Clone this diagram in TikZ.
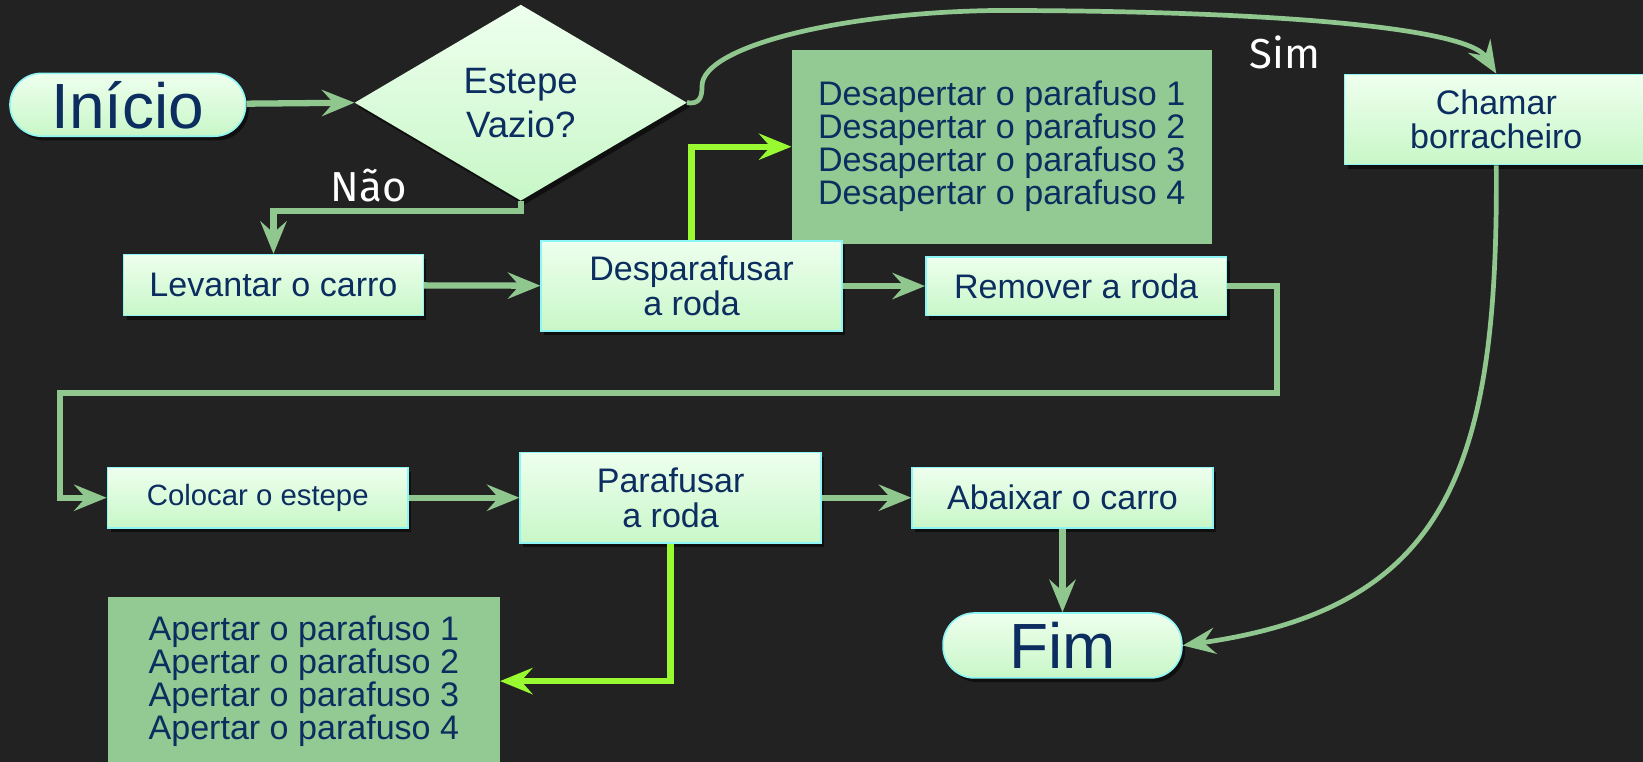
\documentclass[tikz,border=0pt]{standalone}
\usepackage{fontspec}
\setmainfont{Liberation Sans}
\newfontfamily\lblfont{Fira Sans}
\usetikzlibrary{shapes.geometric,arrows.meta,shadows,calc}
\definecolor{bgc}{RGB}{34,34,34}
\definecolor{lgreen}{RGB}{143,199,143}
\definecolor{bright}{RGB}{153,250,50}
\definecolor{darkg}{RGB}{147,201,147}
\definecolor{gtop}{RGB}{238,255,238}
\definecolor{gbot}{RGB}{200,247,200}
\definecolor{cyanb}{RGB}{140,245,245}
\definecolor{navy}{RGB}{12,45,95}
\begin{document}
\begin{tikzpicture}[x=1pt,y=-1pt,
  procbox/.style={rectangle, draw=cyanb, line width=1.5pt, top color=gtop, bottom color=gbot,
    text=navy, font=\fontsize{32.5}{33}\selectfont, align=center, inner sep=0pt,
    drop shadow={shadow xshift=3pt, shadow yshift=-4pt, opacity=0.55, fill=black}},
  pill/.style={procbox, rounded corners=30pt, font=\fontsize{61}{62}\selectfont},
  notebox/.style={rectangle, fill=darkg, inner sep=0pt},
  notetext/.style={text=navy, font=\fontsize{32.5}{31.5}\selectfont, align=center, inner sep=0pt},
  conn/.style={line width=6pt, draw=lgreen, -{Stealth[length=31pt,width=25pt,inset=11pt]}},
  bconn/.style={conn, draw=bright},
  curveconn/.style={conn, line width=4.5pt},
  lbl/.style={text=white, font=\lblfont\fontsize{40}{40}\selectfont, inner sep=0pt}
]
\fill[bgc] (0,0) rectangle (1568,727);
\useasboundingbox (0,0) rectangle (1568,727);

% notes
\node[notebox, minimum width=401pt, minimum height=185pt] (desap) at (956,140) {};
\node[notetext] (desapt) at (956,140) {Desapertar o parafuso 1\\Desapertar o parafuso 2\\Desapertar o parafuso 3\\Desapertar o parafuso 4};
\node[notebox, minimum width=374pt, minimum height=200pt] (apert) at (290,670) {};
\node[notetext] (apertt) at (290,650) {Apertar o parafuso 1\\Apertar o parafuso 2\\Apertar o parafuso 3\\Apertar o parafuso 4};

% terminals
\node[pill, minimum width=225pt, minimum height=60pt] (ini) at (122,100) {Início};
\node[pill, minimum width=228pt, minimum height=62pt] (fim) at (1014,616) {Fim};

% decision
\node[diamond, aspect=1.7, minimum width=317pt, minimum height=187pt, inner sep=0pt,
  top color=gtop, bottom color=gbot, text=navy, align=center,
  font=\fontsize{35}{42}\selectfont,
  drop shadow={shadow xshift=3pt, shadow yshift=-4pt, opacity=0.55, fill=black}] (dia) at (497,98) {Estepe\\Vazio?};

% process boxes
\node[procbox, minimum width=286pt, minimum height=58pt] (lev) at (261,272) {Levantar o carro};
\node[procbox, minimum width=287pt, minimum height=86pt] (desp) at (660,273) {Desparafusar\\a roda};
\node[procbox, minimum width=287pt, minimum height=56pt] (rem) at (1027,273) {Remover a roda};
\node[procbox, minimum width=290pt, minimum height=86pt] (ch) at (1428,114) {Chamar\\borracheiro};
\node[procbox, minimum width=287pt, minimum height=58pt, font=\fontsize{28}{30}\selectfont] (col) at (246,475) {Colocar o estepe};
\node[procbox, minimum width=287pt, minimum height=86pt] (par) at (640,475) {Parafusar\\a roda};
\node[procbox, minimum width=287pt, minimum height=58pt] (aba) at (1014,475) {Abaixar o carro};

% labels
\node[lbl] (nao) at (352,177) {Não};
\node[lbl] (sim) at (1226,50) {Sim};

% connectors
\coordinate (k1) at (1219,375);
\coordinate (k2) at (57,375);
\draw[conn] (ini) -- (dia.west);
\draw[conn] (dia.south) -- ++(0,10) -| (lev.north);
\draw[conn] (lev) -- (desp);
\draw[bconn] (desp.north) |- (desap.west);
\draw[conn] (desp) -- (rem);
\draw[conn] (rem.east) -| (k1) -- (k2) |- (col.west);
\draw[conn] (col) -- (par);
\draw[conn] (par) -- (aba);
\draw[conn] (aba) -- (fim);
\draw[bconn] (par.south) |- (apert.east |- apertt.center);
\draw[curveconn] (dia.east) .. controls (668,100) and (670,92) .. (670,82)
   .. controls (670,45) and (800,12) .. (950,10)
   .. controls (1200,10) and (1400,25) .. (ch.north);
\draw[curveconn] (ch.south) .. controls (1430,450) and (1380,580) .. (fim.east);
\end{tikzpicture}
\end{document}
